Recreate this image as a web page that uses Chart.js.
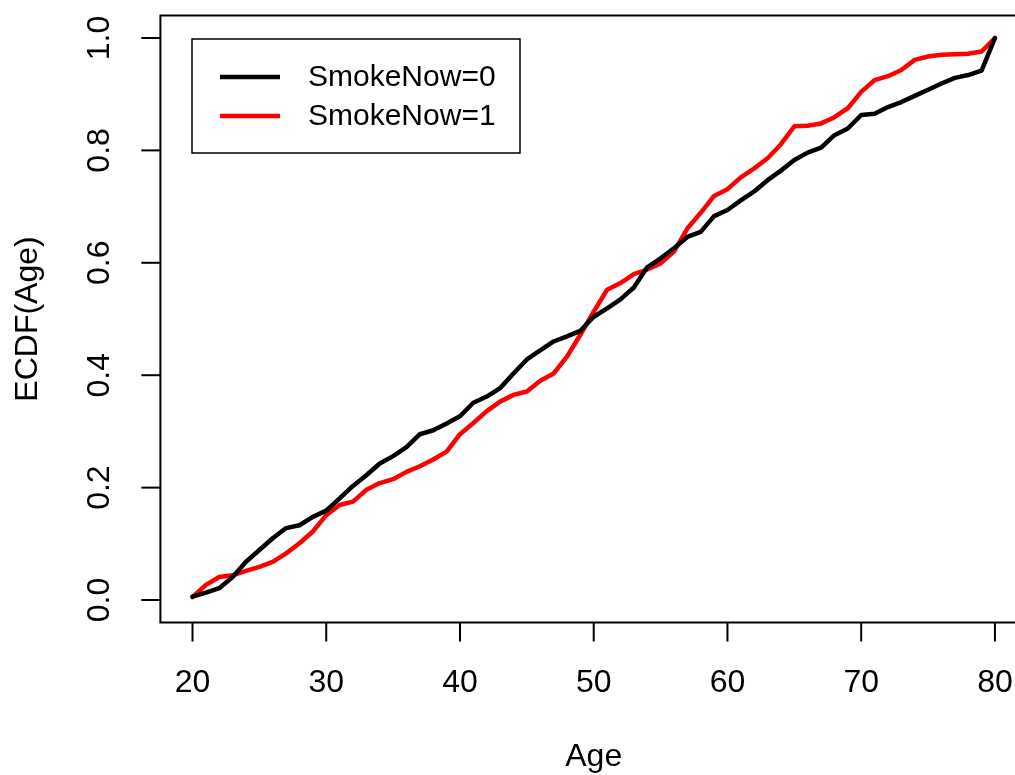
<!DOCTYPE html>
<html>
<head>
<meta charset="utf-8">
<script src="https://cdn.jsdelivr.net/npm/chart.js@4"></script>
<style>
  html, body { margin: 0; padding: 0; background: #fff; overflow: hidden; }
</style>
</head>
<body>
<canvas id="ecdfChart" width="1015" height="775"></canvas>
<script>
const ages = [20, 21, 22, 23, 24, 25, 26, 27, 28, 29, 30, 31, 32, 33, 34, 35, 36, 37, 38, 39, 40,
              41, 42, 43, 44, 45, 46, 47, 48, 49, 50, 51, 52, 53, 54, 55, 56, 57, 58, 59, 60,
              61, 62, 63, 64, 65, 66, 67, 68, 69, 70, 71, 72, 73, 74, 75, 76, 77, 78, 79, 80];

// SmokeNow=0
const ecdfSmoke0 = [0.006, 0.013, 0.021, 0.041, 0.068, 0.089, 0.110, 0.128, 0.133, 0.148, 0.159,
                    0.181, 0.203, 0.222, 0.243, 0.256, 0.272, 0.295, 0.302, 0.314, 0.327,
                    0.351, 0.362, 0.377, 0.403, 0.428, 0.444, 0.460, 0.469, 0.479, 0.504,
                    0.519, 0.535, 0.556, 0.592, 0.608, 0.626, 0.646, 0.655, 0.683, 0.694,
                    0.711, 0.727, 0.747, 0.764, 0.783, 0.796, 0.805, 0.827, 0.839, 0.863,
                    0.865, 0.877, 0.886, 0.897, 0.908, 0.919, 0.929, 0.934, 0.942, 1.000];

// SmokeNow=1
const ecdfSmoke1 = [0.005, 0.027, 0.041, 0.044, 0.052, 0.059, 0.068, 0.083, 0.101, 0.122, 0.151,
                    0.169, 0.175, 0.196, 0.208, 0.215, 0.228, 0.238, 0.250, 0.264, 0.295,
                    0.315, 0.336, 0.353, 0.365, 0.371, 0.390, 0.403, 0.433, 0.472, 0.513,
                    0.552, 0.564, 0.580, 0.588, 0.599, 0.620, 0.661, 0.689, 0.719, 0.731,
                    0.752, 0.768, 0.786, 0.811, 0.843, 0.844, 0.848, 0.859, 0.875, 0.904,
                    0.925, 0.932, 0.943, 0.961, 0.967, 0.970, 0.971, 0.972, 0.976, 1.000];

const xTicks = [20, 30, 40, 50, 60, 70, 80];
const yTicks = [0.0, 0.2, 0.4, 0.6, 0.8, 1.0];
const seriesNames = ["SmokeNow=0", "SmokeNow=1"];

const AXIS_FONT = '32px "Liberation Sans", Arial, sans-serif';
const LEGEND_FONT = '30px "Liberation Sans", Arial, sans-serif';

function toPoints(vals) {
    return ages.map((a, i) => ({ x: a, y: vals[i] }));
}

// R style axes, box and legend drawn on top of the chart area
const baseAxes = {
    id: "baseAxes",
    afterDraw(chart) {
        const ctx = chart.ctx;
        const xs = chart.scales.x;
        const ys = chart.scales.y;
        const area = chart.chartArea;

        ctx.save();
        ctx.strokeStyle = "#000";
        ctx.fillStyle = "#000";
        ctx.lineWidth = 2;

        // box (right edge falls off the page)
        ctx.beginPath();
        ctx.moveTo(area.right + 20, area.top);
        ctx.lineTo(area.left, area.top);
        ctx.lineTo(area.left, area.bottom);
        ctx.lineTo(area.right + 20, area.bottom);
        ctx.stroke();

        // x axis ticks + labels
        ctx.font = AXIS_FONT;
        ctx.textAlign = "center";
        ctx.textBaseline = "middle";
        xTicks.forEach(t => {
            const px = xs.getPixelForValue(t);
            ctx.beginPath();
            ctx.moveTo(px, area.bottom);
            ctx.lineTo(px, area.bottom + 19);
            ctx.stroke();
            ctx.fillText(String(t), px, 683);
        });

        // y axis ticks + rotated labels
        yTicks.forEach(t => {
            const py = ys.getPixelForValue(t);
            ctx.beginPath();
            ctx.moveTo(area.left, py);
            ctx.lineTo(area.left - 19, py);
            ctx.stroke();
            ctx.save();
            ctx.translate(100, py);
            ctx.rotate(-Math.PI / 2);
            ctx.fillText(t.toFixed(1), 0, 0);
            ctx.restore();
        });

        // axis titles
        const midX = (xs.getPixelForValue(17.6) + xs.getPixelForValue(82.4)) / 2;
        ctx.fillText("Age", midX, 757);
        ctx.save();
        ctx.translate(28, (area.top + area.bottom) / 2);
        ctx.rotate(-Math.PI / 2);
        ctx.fillText("ECDF(Age)", 0, 0);
        ctx.restore();

        // legend
        ctx.font = LEGEND_FONT;
        ctx.lineWidth = 1.5;
        ctx.strokeRect(192, 39, 328, 114);
        const rows = [77, 116];
        ctx.textAlign = "left";
        chart.data.datasets.forEach((ds, i) => {
            ctx.strokeStyle = ds.borderColor;
            ctx.lineWidth = 4.5;
            ctx.beginPath();
            ctx.moveTo(220, rows[i]);
            ctx.lineTo(280, rows[i]);
            ctx.stroke();
            ctx.fillText(ds.label, 308, rows[i] + 1);
        });

        ctx.restore();
    }
};

new Chart(document.getElementById("ecdfChart"), {
    type: "line",
    data: {
        datasets: [
            { label: seriesNames[0], data: toPoints(ecdfSmoke0), borderColor: "#000000" },
            { label: seriesNames[1], data: toPoints(ecdfSmoke1), borderColor: "#FF0000" }
        ]
    },
    options: {
        responsive: false,
        animation: false,
        layout: { padding: { left: 160.4, top: 15.5, right: 0, bottom: 152.5 } },
        elements: {
            line: { borderWidth: 4.5, tension: 0, fill: false, borderCapStyle: "round", borderJoinStyle: "round" },
            point: { radius: 0 }
        },
        plugins: { legend: { display: false }, tooltip: { enabled: false } },
        scales: {
            x: { type: "linear", display: false, min: 17.6, max: 81.5 },
            y: { type: "linear", display: false, min: -0.04, max: 1.04 }
        }
    },
    plugins: [baseAxes]
});
</script>
</body>
</html>
